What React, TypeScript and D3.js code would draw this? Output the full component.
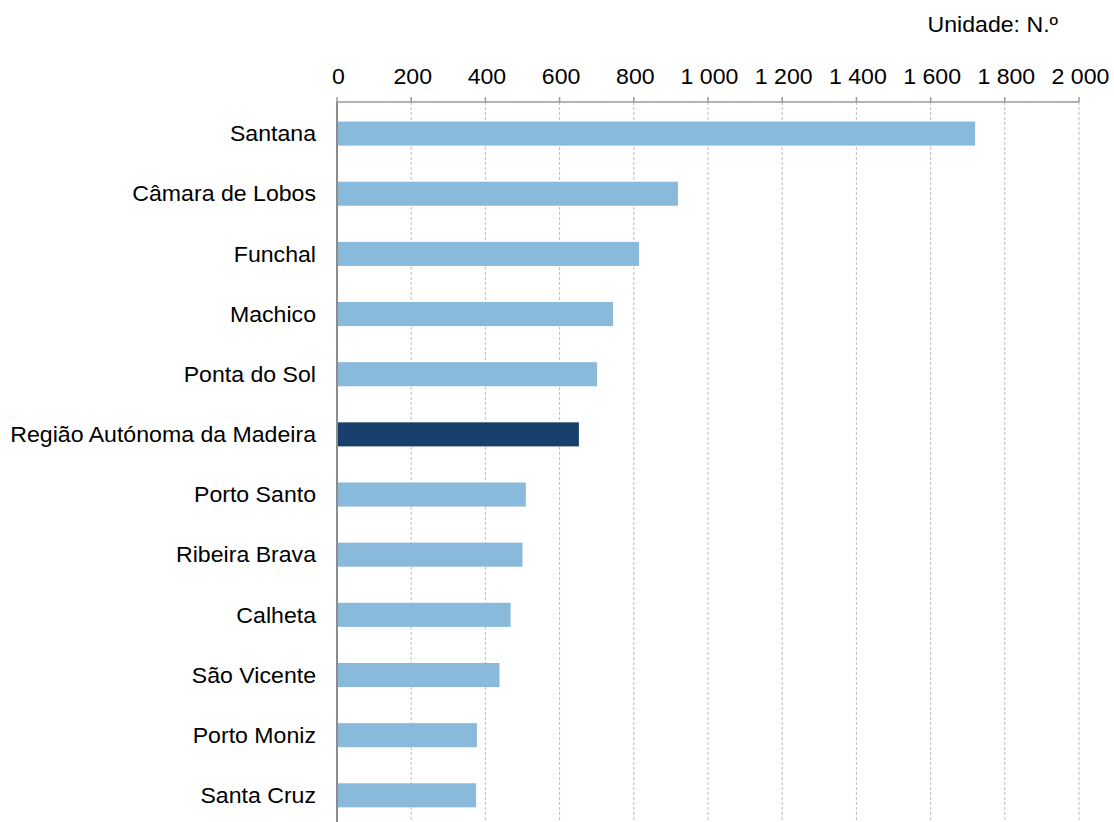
import React from "react";
import * as d3 from "d3";

const categories = [
  "Santana",
  "Câmara de Lobos",
  "Funchal",
  "Machico",
  "Ponta do Sol",
  "Região Autónoma da Madeira",
  "Porto Santo",
  "Ribeira Brava",
  "Calheta",
  "São Vicente",
  "Porto Moniz",
  "Santa Cruz",
];
const values = [1720, 919, 814, 744, 701, 652, 509, 500, 468, 438, 377, 375];
const highlight = "Região Autónoma da Madeira";
const tickValues = [0, 200, 400, 600, 800, 1000, 1200, 1400, 1600, 1800, 2000];
const unitLabel = "Unidade: N.º";

const W = 1114;
const H = 822;
const FONT = "'Liberation Sans', Arial, sans-serif";
const SX = 1.075;
const FS = 21.5;

export default function App() {
  const x = d3.scaleLinear().domain([0, 2000]).range([337, 1079]);
  const y = d3
    .scaleBand<string>()
    .domain(categories)
    .range([103.5, 825.4])
    .paddingInner(0.6)
    .paddingOuter(0.3);
  const axisY = 102;
  const fmt = (v: number) => d3.format(",")(v).replace(/,/g, " ");

  return (
    <svg
      width={W}
      height={H}
      style={{ position: "absolute", left: 0, top: 0, background: "#fff" }}
      fontFamily={FONT}
    >
      {tickValues.slice(1).map((t) => (
        <line
          key={"g" + t}
          x1={x(t)}
          x2={x(t)}
          y1={axisY}
          y2={H}
          stroke="#bdbdbd"
          strokeWidth={1}
          strokeDasharray="3,2"
        />
      ))}
      {categories.map((c, i) => (
        <rect
          key={c}
          x={x(0)}
          y={y(c)}
          width={x(values[i]) - x(0)}
          height={y.bandwidth()}
          fill={c === highlight ? "#173F6B" : "#89B9DB"}
        />
      ))}
      <line x1={x(0)} x2={x(2000)} y1={axisY} y2={axisY} stroke="#9a9a9a" strokeWidth={1.5} />
      {tickValues.map((t) => (
        <g key={"t" + t}>
          <line x1={x(t)} x2={x(t)} y1={axisY - 5} y2={axisY} stroke="#9a9a9a" strokeWidth={1.5} />
          <text
            transform={`translate(${x(t) + 1.5},83.5) scale(${SX},1)`}
            textAnchor="middle"
            fontSize={FS}
            fill="#000"
          >
            {fmt(t)}
          </text>
        </g>
      ))}
      <line x1={x(0)} x2={x(0)} y1={axisY} y2={H} stroke="#8c8c8c" strokeWidth={2} />
      {categories.map((c) => (
        <text
          key={"l" + c}
          transform={`translate(316,${(y(c) as number) + y.bandwidth() / 2}) scale(${SX},1)`}
          dy="0.36em"
          textAnchor="end"
          fontSize={FS}
          fill="#000"
        >
          {c}
        </text>
      ))}
      <text
        transform={`translate(1058,31.5) scale(${SX},1)`}
        textAnchor="end"
        fontSize={FS}
        fill="#000"
      >
        {unitLabel}
      </text>
    </svg>
  );
}
